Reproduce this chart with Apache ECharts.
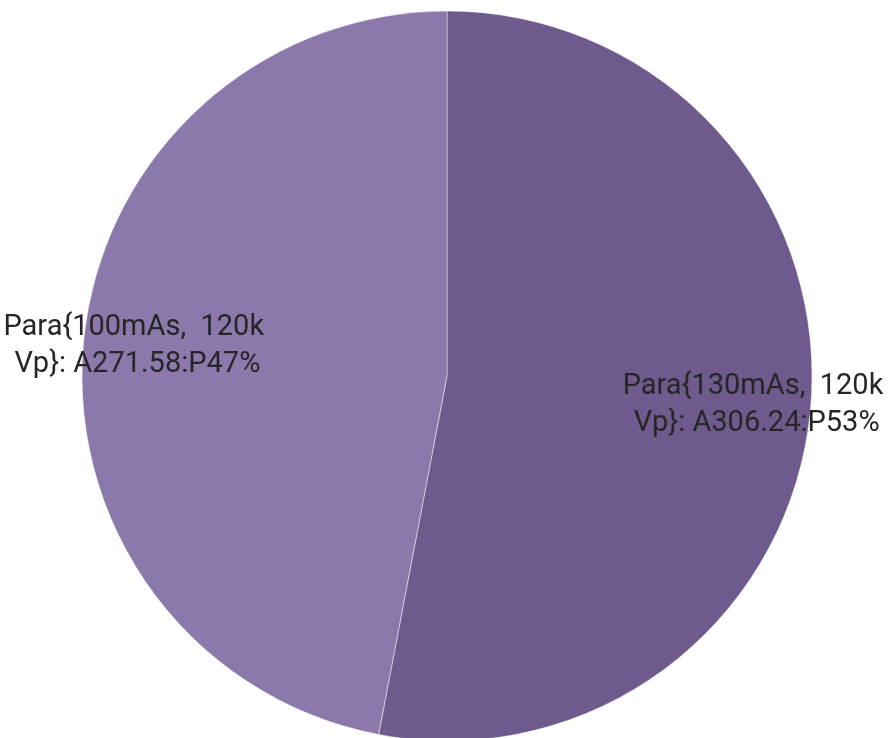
<!DOCTYPE html>
<html>
<head>
<meta charset="utf-8">
<script src="https://cdn.jsdelivr.net/npm/echarts@6/dist/echarts.min.js"></script>
<style>html,body{margin:0;padding:0;background:#fff;}#c{width:890px;height:738px;}</style>
</head>
<body>
<div id="c"></div>
<script>
var categories = ['Para{130mAs,  120k Vp}', 'Para{100mAs,  120k Vp}'];
var values = [306.24, 271.58];
var colors = ['#6e5a8c', '#8c79ac'];

var data = categories.map(function (n, i) { return { name: n, value: values[i], itemStyle: { color: colors[i] } }; });
var labelData = categories.map(function (n, i) { return { name: n, value: values[i] }; });

var chart = echarts.init(document.getElementById('c'));
chart.setOption({
  animation: false,
  series: [
    {
      type: 'pie',
      center: [447, 376],
      radius: [0, 365],
      startAngle: 90,
      clockwise: true,
      silent: true,
      percentPrecision: 0,
      itemStyle: { borderColor: 'rgba(255,255,255,0.45)', borderWidth: 1 },
      label: { show: false },
      labelLine: { show: false },
      data: data
    },
    {
      type: 'pie',
      center: [447, 376],
      radius: [251, 365],
      startAngle: 90,
      clockwise: true,
      silent: true,
      percentPrecision: 0,
      itemStyle: { color: 'rgba(0,0,0,0)', borderWidth: 0 },
      label: {
        show: true,
        position: 'inside',
        formatter: '{b}: A{c}:P{d}%',
        fontFamily: 'Roboto',
        fontSize: 29,
        lineHeight: 37,
        color: '#262626',
        width: 272,
        overflow: 'break',
        align: 'center'
      },
      labelLine: { show: false },
      data: labelData
    }
  ]
});
</script>
</body>
</html>
